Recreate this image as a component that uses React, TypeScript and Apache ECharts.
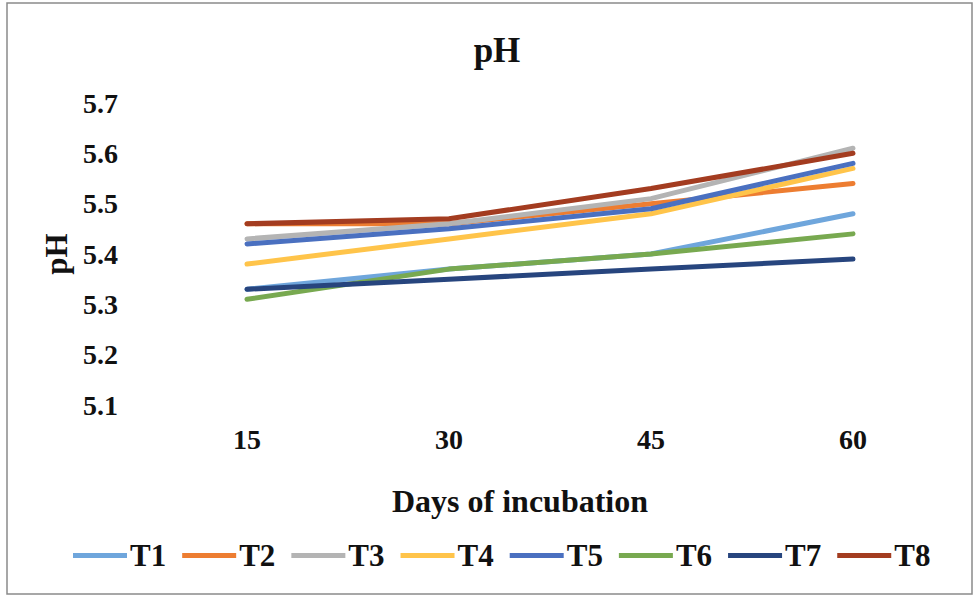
import React, { useEffect, useRef } from "react";
import * as echarts from "echarts";

// Incubation days (category axis)
const days = ["15", "30", "45", "60"];

// pH readings per treatment
const seriesNames = ["T1", "T2", "T3", "T4", "T5", "T6", "T7", "T8"];
const t1 = [5.33, 5.37, 5.40, 5.48];
const t2 = [5.46, 5.46, 5.50, 5.54];
const t3 = [5.43, 5.46, 5.51, 5.61];
const t4 = [5.38, 5.43, 5.48, 5.57];
const t5 = [5.42, 5.45, 5.49, 5.58];
const t6 = [5.31, 5.37, 5.40, 5.44];
const t7 = [5.33, 5.35, 5.37, 5.39];
const t8 = [5.46, 5.47, 5.53, 5.60];
const seriesValues = [t1, t2, t3, t4, t5, t6, t7, t8];

const colors = [
  "#6fa6dc",
  "#ed7d31",
  "#b4b4b4",
  "#ffc44a",
  "#4a70c0",
  "#78a950",
  "#27457e",
  "#a33c20",
];

const FONT = "'Liberation Serif', 'Times New Roman', serif";

export default function App() {
  const ref = useRef<HTMLDivElement>(null);

  useEffect(() => {
    if (!ref.current) return;
    const chart = echarts.init(ref.current, null, { renderer: "svg" });
    chart.setOption({
      animation: false,
      backgroundColor: "#ffffff",
      color: colors,
      title: {
        text: "pH",
        left: 492,
        top: 28,
        textAlign: "center",
        textStyle: { fontFamily: FONT, fontSize: 35, fontWeight: "bold", color: "#111" },
      },
      graphic: [
        {
          type: "rect",
          shape: { x: 7, y: 3, width: 965, height: 591 },
          style: { fill: "none", stroke: "#8a8a8a", lineWidth: 1.5 },
          silent: true,
        },
      ],
      legend: {
        data: seriesNames,
        left: 68,
        top: 535,
        icon: "rect",
        itemWidth: 54,
        itemHeight: 5,
        itemGap: 16,
        textStyle: { fontFamily: FONT, fontSize: 31, fontWeight: "bold", color: "#111", padding: [0, 0, 0, -2] },
      },
      grid: { left: 146, right: 21, top: 103, bottom: 192, containLabel: false },
      xAxis: {
        type: "category",
        data: days,
        boundaryGap: true,
        axisLine: { show: false },
        axisTick: { show: false },
        axisLabel: { fontFamily: FONT, fontSize: 28, fontWeight: "bold", color: "#111", margin: 20 },
        name: "Days of incubation",
        nameLocation: "middle",
        nameGap: 80,
        nameTextStyle: { fontFamily: FONT, fontSize: 32, fontWeight: "bold", color: "#111", padding: [0, 60, 0, 0] },
      },
      yAxis: {
        type: "value",
        min: 5.1,
        max: 5.7,
        interval: 0.1,
        axisLine: { show: false },
        axisTick: { show: false },
        splitLine: { show: false },
        axisLabel: {
          fontFamily: FONT,
          fontSize: 28,
          fontWeight: "bold",
          color: "#111",
          margin: 28,
          formatter: (v: number) => v.toFixed(1),
        },
        name: "pH",
        nameLocation: "middle",
        nameGap: 70,
        nameRotate: 90,
        nameTextStyle: { fontFamily: FONT, fontSize: 31, fontWeight: "bold", color: "#111" },
      },
      series: seriesNames.map((name, i) => ({
        name,
        type: "line",
        data: seriesValues[i],
        showSymbol: false,
        symbol: "none",
        lineStyle: { width: 5, color: colors[i], cap: "round" },
        itemStyle: { color: colors[i] },
      })),
    });
    return () => chart.dispose();
  }, []);

  return (
    <div
      ref={ref}
      style={{ position: "fixed", left: 0, top: 0, width: 975, height: 597 }}
    />
  );
}
